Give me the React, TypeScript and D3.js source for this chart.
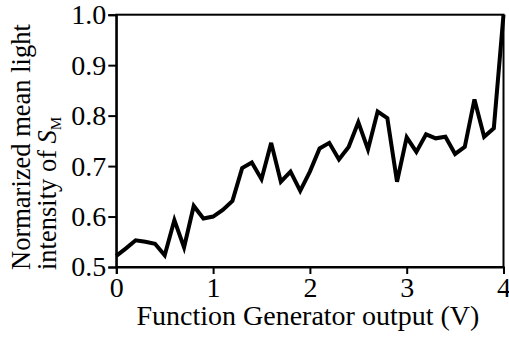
import React, { useEffect, useRef } from "react";
import * as d3 from "d3";

const xValues = [
  0, 0.1, 0.2, 0.3, 0.4, 0.5, 0.6, 0.7, 0.8, 0.9, 1.0, 1.1, 1.2, 1.3, 1.4, 1.5, 1.6, 1.7, 1.8, 1.9,
  2.0, 2.1, 2.2, 2.3, 2.4, 2.5, 2.6, 2.7, 2.8, 2.9, 3.0, 3.1, 3.2, 3.3, 3.4, 3.5, 3.6, 3.7, 3.8, 3.9, 4.0,
];
const yValues = [
  0.522, 0.537, 0.553, 0.55, 0.546, 0.523, 0.593, 0.539, 0.621, 0.596, 0.6, 0.613, 0.631, 0.696, 0.707,
  0.674, 0.746, 0.669, 0.689, 0.651, 0.689, 0.735, 0.746, 0.713, 0.738, 0.787, 0.733, 0.808, 0.795,
  0.669, 0.757, 0.728, 0.763, 0.755, 0.758, 0.724, 0.738, 0.832, 0.758, 0.775, 1.0,
];
const xTicks = [0, 1, 2, 3, 4];
const yTicks = [0.5, 0.6, 0.7, 0.8, 0.9, 1.0];
const xTitle = "Function Generator output (V)";
const yTitle1 = "Normarized mean light";
const yTitle2 = "intensity of ";

const W = 509;
const H = 339;
const left = 116.3;
const right = 503.5;
const top = 14.7;
const bottom = 267;
const FONT = "Liberation Serif";
const FS = 28;
const YFS = 26.5;

export default function App() {
  const ref = useRef<SVGSVGElement>(null);
  useEffect(() => {
    const svg = d3.select(ref.current);
    svg.selectAll("*").remove();
    const x = d3.scaleLinear().domain([0, 4]).range([left, right]);
    const y = d3.scaleLinear().domain([0.5, 1.0]).range([bottom, top]);

    svg
      .append("rect")
      .attr("x", left)
      .attr("y", top)
      .attr("width", right - left)
      .attr("height", bottom - top)
      .attr("fill", "none")
      .attr("stroke", "#000")
      .attr("stroke-width", 2);

    const xAxis = svg
      .append("g")
      .attr("transform", `translate(0,${bottom})`)
      .call(d3.axisBottom(x).tickValues(xTicks).tickSize(7).tickPadding(3).tickFormat(d3.format("d")));
    const yAxis = svg
      .append("g")
      .attr("transform", `translate(${left},0)`)
      .call(d3.axisLeft(y).tickValues(yTicks).tickSize(8).tickPadding(2).tickFormat(d3.format(".1f")));
    [xAxis, yAxis].forEach((g) => {
      g.attr("font-family", FONT).attr("font-size", FS);
      g.select(".domain").attr("stroke-width", 2);
      g.selectAll(".tick line").attr("stroke-width", 2);
      g.selectAll("text")
        .attr("font-family", FONT)
        .attr("font-size", FS)
        .style("font-family", FONT)
        .attr("fill", "#000");
    });

    const line = d3
      .line<number>()
      .x((_, i) => x(xValues[i]))
      .y((d) => y(d));
    svg
      .append("path")
      .datum(yValues)
      .attr("d", line)
      .attr("fill", "none")
      .attr("stroke", "#000")
      .attr("stroke-width", 4)
      .attr("stroke-linejoin", "miter");

    svg
      .append("text")
      .attr("x", (left + right) / 2 - 2)
      .attr("y", 325)
      .attr("text-anchor", "middle")
      .style("font-family", FONT)
      .attr("font-size", FS)
      .text(xTitle);

    svg
      .append("text")
      .attr("transform", `translate(30,270) rotate(-90)`)
      .style("font-family", FONT)
      .attr("font-size", YFS)
      .text(yTitle1);
    const t2 = svg
      .append("text")
      .attr("transform", `translate(56,270) rotate(-90)`)
      .style("font-family", FONT)
      .attr("font-size", YFS);
    t2.append("tspan").text(yTitle2);
    t2.append("tspan").attr("font-style", "italic").text("S");
    t2.append("tspan").attr("font-size", 15).attr("dy", 5).text("M");
  }, []);
  return (
    <svg
      ref={ref}
      width={W}
      height={H}
      style={{ position: "absolute", left: 0, top: 0, background: "#fff" }}
    />
  );
}
